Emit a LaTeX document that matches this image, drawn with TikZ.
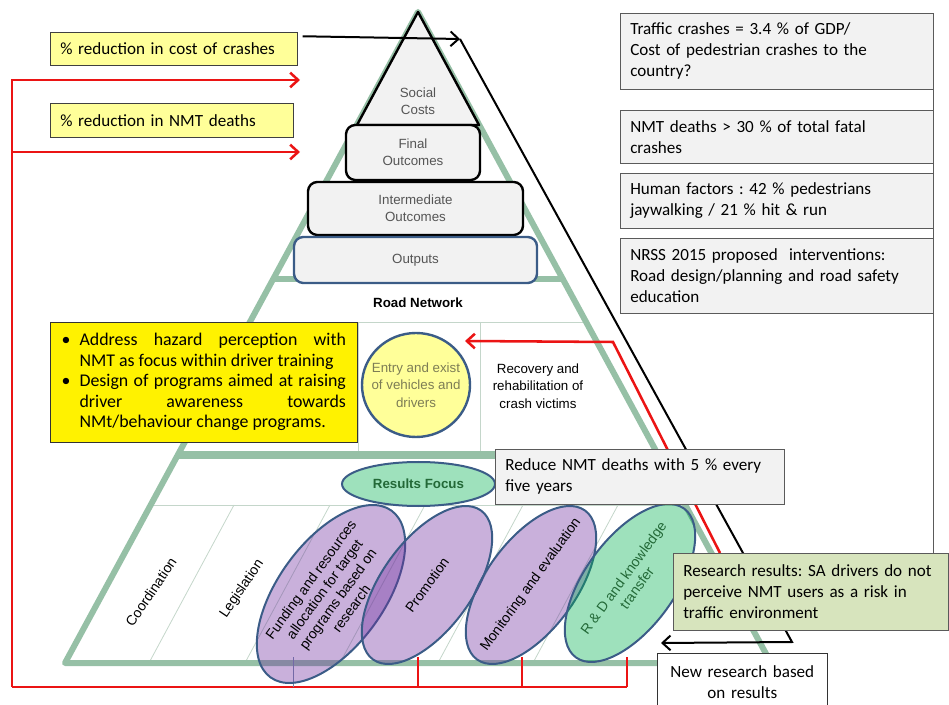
\documentclass[tikz,border=0pt]{standalone}
\usepackage{fontspec}
\setmainfont{Carlito}
\newfontfamily\arialfont{Liberation Sans}
\usetikzlibrary{arrows.meta,shapes.geometric}
\pgfdeclarelayer{pyramid}
\pgfdeclarelayer{links}
\pgfsetlayers{pyramid,links,main}
\definecolor{pyrgreen}{RGB}{150,192,166}
\definecolor{thinline}{RGB}{196,214,202}
\definecolor{edgeblue}{RGB}{59,92,135}
\definecolor{boxgrey}{RGB}{242,242,242}
\definecolor{boxedge}{RGB}{90,90,90}
\definecolor{paleyellow}{RGB}{255,255,153}
\definecolor{ovalpurple}{RGB}{112,48,160}
\definecolor{ovalgreen}{RGB}{0,176,80}
\definecolor{darkgreentext}{RGB}{35,105,55}
\definecolor{olivetext}{RGB}{125,125,85}
\definecolor{labelgrey}{RGB}{85,85,85}
\definecolor{researchfill}{RGB}{215,228,189}
\definecolor{linered}{RGB}{235,20,20}
\frenchspacing

\begin{document}
\begin{tikzpicture}[x=0.75pt, y=-0.75pt,
        note/.style={draw=boxedge, fill=boxgrey, anchor=north west, align=left, inner xsep=7.5pt, inner ysep=0pt,
                     font=\fontsize{12.8}{15.75}\selectfont},
        tier/.style={draw=black, line width=1.8pt, fill=boxgrey, rounded corners=7pt, align=center, text=labelgrey,
                     font=\arialfont\fontsize{10}{13}\selectfont},
        arialtext/.style={align=center, font=\arialfont\fontsize{10}{13}\selectfont},
        oval/.style={ellipse, draw=edgeblue, line width=1.5pt, fill=ovalpurple, fill opacity=0.38, text opacity=1,
                     inner sep=0pt, align=center, font=\arialfont\fontsize{10.5}{12.5}\selectfont},
        redline/.style={draw=linered, line width=1.9pt},
        blackline/.style={draw=black, line width=1.5pt},
        openhead/.style={-{Straight Barb[length=6pt, width=11pt]}}
    ]
                \useasboundingbox (0, 0) rectangle (949, 705);
                \begin{pgfonlayer}{pyramid}
                    \draw[thinline, line width=0.6pt] (358, 322) -- (586, 322) (358, 322) -- (358, 451) (480, 322) -- (480, 451);
                    \draw[thinline, line width=0.6pt] (151, 505) -- (685, 505);
                    \foreach \x in {150, 246, 341, 439, 534}
                        \draw[thinline, line width=0.6pt] (\x, 661) -- (\x + 84, 505);
                    \draw[pyrgreen, line width=4.5pt, line join=round] (418, 12) -- (65, 663) -- (771, 663) -- cycle;
                    \draw[pyrgreen, line width=4pt] (272, 279) -- (564, 279);
                    \draw[pyrgreen, line width=5.5pt] (178, 455) -- (658, 455);
                    \draw[line width=1.8pt, fill=boxgrey, line join=round] (418, 12) -- (357, 125) -- (479, 125) -- cycle;
                \end{pgfonlayer}

                \node[arialtext, text=labelgrey] (social) at (418, 101) {Social\\Costs};
                \node[tier, minimum width=100.5pt, minimum height=41.25pt] (final) at (413, 152.5) {Final\\Outcomes};
                \node[tier, minimum width=161.25pt, minimum height=39.75pt] (intermediate) at (415.5, 208.5) {Intermediate\\Outcomes};
                \node[tier, draw=edgeblue, minimum width=182.25pt, minimum height=34.5pt] (outputs) at (415.5, 260) {Outputs};
                \node[arialtext, font=\arialfont\bfseries\fontsize{10}{13}\selectfont] (roadnet) at (418, 303) {Road Network};
                \node[arialtext] (recovery) at (538, 386) {Recovery and\\rehabilitation of\\crash victims};
                \node[ellipse, draw=edgeblue, line width=1.8pt, fill=paleyellow, text=olivetext, inner xsep=-6pt, inner ysep=-4pt,
                      minimum width=81pt, minimum height=78pt, arialtext] (entry) at (416, 385) {Entry and exist\\of vehicles and\\drivers};

                \node[oval, fill=ovalgreen, text=darkgreentext, minimum width=114.75pt, minimum height=33pt,
                      font=\arialfont\bfseries\fontsize{10}{12}\selectfont] (focus) at (418.5, 484) {Results Focus};
                \node[arialtext, font=\arialfont\fontsize{10.5}{13}\selectfont, rotate=56] (coordination) at (151, 592) {Coordination};
                \node[arialtext, font=\arialfont\fontsize{10.5}{13}\selectfont, rotate=56] (legislation) at (242, 589) {Legislation};
                \node[oval, rotate=54, inner xsep=-4pt, minimum width=154.5pt, minimum height=79.5pt] (funding) at (331, 594)
                    {Funding and resources\\allocation for target\\programs based on\\research};
                \node[oval, rotate=54, minimum width=138pt, minimum height=67.5pt] (promotion) at (427, 585) {Promotion};
                \node[oval, rotate=54, inner xsep=-14pt, minimum width=138pt, minimum height=67.5pt] (monitoring) at (531, 585)
                    {Monitoring and evaluation};
                \node[oval, rotate=54, fill=ovalgreen, text=darkgreentext, inner xsep=-6pt, minimum width=138pt, minimum height=67.5pt]
                    (rnd) at (630, 583) {R \& D and knowledge\\transfer};

                \node[note, fill=paleyellow, draw=black!75, text width=170.25pt, minimum height=24.75pt] (costcut) at (50, 32)
                    {\% reduction in cost of crashes};
                \node[note, fill=paleyellow, draw=black!75, text width=167.25pt, minimum height=25.5pt] (nmtcut) at (50, 103)
                    {\% reduction in NMT deaths};
                \node[note, fill=yellow, draw=black!80, inner xsep=8.5pt, text width=213.25pt, minimum height=90pt, align=justify,
                      font=\fontsize{13.4}{15.4}\selectfont] (driver) at (50, 322)
                    {\hangindent=13.5pt\hangafter=1\noindent\makebox[13.5pt][l]{\textbullet}Address hazard perception with\linebreak
                     NMT as focus within driver training\par
                     \hangindent=13.5pt\hangafter=1\noindent\makebox[13.5pt][l]{\textbullet}Design of programs aimed at raising\linebreak
                     driver awareness towards\linebreak NMt/behaviour change programs.\par};

                \node[note, text width=219.75pt, minimum height=57pt] (gdp) at (620, 13)
                    {Traffic crashes = 3.4 \% of GDP/\\Cost of pedestrian crashes to the\\country?};
                \node[note, text width=219.75pt, minimum height=39.75pt] (fatal) at (620, 110) {NMT deaths > 30 \% of total fatal\\crashes};
                \node[note, text width=219.75pt, minimum height=41.25pt] (human) at (620, 173) {Human factors : 42 \% pedestrians\\jaywalking / 21 \% hit \& run};
                \node[note, text width=219.75pt, minimum height=56.25pt] (nrss) at (620, 238)
                    {NRSS 2015 proposed~ interventions:\\Road design/planning and road safety\\education};
                \node[note, text width=201.75pt, minimum height=41.25pt] (reduce) at (495, 449) {Reduce NMT deaths with 5 \% every\\five years};
                \node[note, fill=researchfill, text width=191.25pt, minimum height=57.75pt] (research) at (673, 553)
                    {Research results: SA drivers do not\\perceive NMT users as a risk in\\traffic environment};
                \node[note, fill=white, draw=black!80, align=center, text width=112.5pt, minimum height=42.75pt] (newresearch) at (657, 653)
                    {New research based\\on results};

                \begin{pgfonlayer}{links}
                    \coordinate (leftbus) at (12, 687);
                    \coordinate (socialin) at (300, 80);
                    \coordinate (finalin) at (300, 152);
                    \coordinate (redknee) at (613, 342);
                    \coordinate (entryin) at (465, 341);
                    \coordinate (blacktop) at (460, 39);
                    \coordinate (blackfoot) at (792, 642);
                    \coordinate (rndin) at (661, 643);
                    \draw[redline, openhead] (leftbus) |- (socialin);
                    \draw[redline, openhead] (leftbus |- finalin) -- (finalin);
                    \draw[redline] (leftbus) -- (627, 687);
                    \foreach \x in {418, 522, 627}
                        \draw[redline] (\x, 687) -- (\x, 657);
                    \draw[edgeblue!70, line width=0.6pt] (293, 687) -- (293, 657);
                    \draw[redline, openhead] (research.north west) ++(47, 0) -- (redknee) -- (entryin);
                    \draw[blackline, openhead] (costcut.east) ++(5, -12.5) -- (blacktop);
                    \draw[blackline, openhead] (blacktop) -- (blackfoot) -- (rndin);
                    \draw[boxedge, line width=0.6pt] (gdp.south east) -- (gdp.south east |- research.north);
                \end{pgfonlayer}
            \end{tikzpicture}
\end{document}
